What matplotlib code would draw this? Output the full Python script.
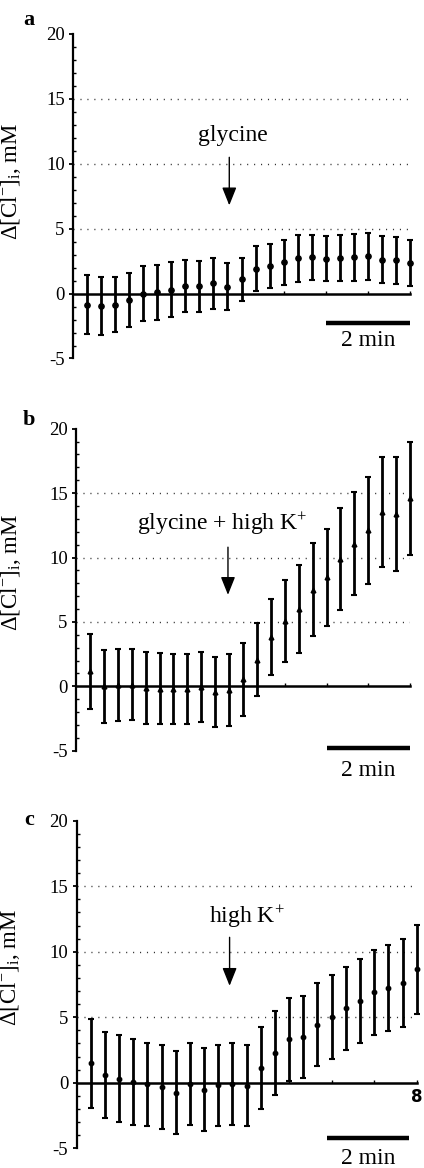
import matplotlib
matplotlib.use("Agg")
import matplotlib.pyplot as plt
import numpy as np

plt.rcParams['font.family'] = ['Liberation Serif', 'DejaVu Serif']
plt.rcParams['mathtext.fontset'] = 'custom'
plt.rcParams['mathtext.rm'] = 'Liberation Serif'
plt.rcParams['mathtext.it'] = 'Liberation Serif:italic'
plt.rcParams['axes.unicode_minus'] = False

# time points every 20 s (minutes)
times = np.arange(1, 25) / 3.0

# panel a: glycine
mean_a = [-0.85, -0.95, -0.85, -0.5, 0.0, 0.1, 0.3, 0.57, 0.57, 0.8, 0.52, 1.1,
          1.92, 2.14, 2.42, 2.72, 2.8, 2.7, 2.72, 2.8, 2.88, 2.62, 2.56, 2.35]
err_a = [2.26, 2.24, 2.14, 2.1, 2.13, 2.1, 2.1, 2.0, 1.95, 1.95, 1.8, 1.68,
         1.72, 1.7, 1.74, 1.8, 1.72, 1.74, 1.78, 1.8, 1.8, 1.82, 1.8, 1.76]

# panel b: glycine + high K+
mean_b = [1.17, 0.0, 0.08, 0.13, -0.13, -0.2, -0.2, -0.2, -0.05, -0.44, -0.28, 0.54,
          2.07, 3.8, 5.05, 6.0, 7.5, 8.45, 9.9, 11.05, 12.1, 13.55, 13.38, 14.6]
err_b = [2.9, 2.85, 2.78, 2.75, 2.76, 2.75, 2.74, 2.74, 2.7, 2.7, 2.8, 2.82,
         2.82, 2.95, 3.2, 3.4, 3.6, 3.75, 3.95, 4.0, 4.15, 4.25, 4.4, 4.4]

# panel c: high K+
mean_c = [1.48, 0.61, 0.31, 0.03, -0.13, -0.33, -0.76, -0.08, -0.53, -0.2, -0.08, -0.23,
          1.12, 2.29, 3.33, 3.51, 4.43, 5.0, 5.67, 6.23, 6.92, 7.23, 7.63, 8.65]
err_c = [3.4, 3.3, 3.3, 3.28, 3.2, 3.2, 3.15, 3.15, 3.15, 3.1, 3.15, 3.1,
         3.14, 3.2, 3.17, 3.15, 3.15, 3.2, 3.18, 3.23, 3.25, 3.3, 3.37, 3.38]

labels = ['a', 'b', 'c']
treatments = ['glycine', 'glycine + high K$^{+}$', 'high K$^{+}$']

W, H = 424, 1168
fig = plt.figure(figsize=(W / 100, H / 100), dpi=100)


def px_axes(left, right, top, bottom):
    return fig.add_axes([left / W, 1 - bottom / H, (right - left) / W, (bottom - top) / H])


panels = [
    dict(ax=px_axes(73, 410, 34, 358.5), mean=mean_a, err=err_a, marker='o', ms=3.8,
         text_xy=(3.8, 12.2), arrow_x=3.71, arrow=(10.5, 6.8),
         bar=(6.0, 8.0, -2.3), bar_text=-3.6, lab_xy=(-0.148, 0.545), panel_y=20),
    dict(ax=px_axes(76, 410, 428.7, 750.7), mean=mean_b, err=err_b, marker='^', ms=3.4,
         text_xy=(3.5, 12.6), arrow_x=3.64, arrow=(10.8, 7.1),
         bar=(6.0, 8.0, -4.8), bar_text=-6.5, lab_xy=(-0.159, 0.555), panel_y=420),
    dict(ax=px_axes(76.5, 416.7, 820.7, 1148.3), mean=mean_c, err=err_c, marker='o', ms=3.2,
         text_xy=(4.0, 12.7), arrow_x=3.6, arrow=(11.1, 7.4),
         bar=(5.88, 7.83, -4.2), bar_text=-5.8, lab_xy=(-0.16, 0.552), panel_y=820),
]

for i, p in enumerate(panels):
    ax = p['ax']
    ax.set_xlim(0, 8)
    ax.set_ylim(-5, 20)

    for lvl in [5, 10, 15]:
        ax.plot([0, 8], [lvl, lvl], color='#333333', lw=1.0, dashes=(0.8, 4.2), zorder=1)

    ax.errorbar(times, p['mean'], yerr=p['err'], fmt=p['marker'], ms=p['ms'],
                color='black', ecolor='black', elinewidth=2.0, capsize=2.2,
                capthick=1.5, clip_on=False, zorder=3)

    ax.spines['top'].set_visible(False)
    ax.spines['right'].set_visible(False)
    ax.spines['bottom'].set_position(('data', 0))
    ax.spines['bottom'].set_linewidth(1.8)
    ax.spines['left'].set_linewidth(1.6)

    ax.set_yticks([-5, 0, 5, 10, 15, 20])
    ax.set_yticks(np.arange(-5, 21, 1), minor=True)
    ax.tick_params(axis='y', which='major', direction='out', length=3, width=1.3,
                   labelsize=13.5, pad=3)
    ax.tick_params(axis='y', which='minor', direction='in', length=2, width=1)
    ax.set_xticks(np.arange(1, 9))
    ax.tick_params(axis='x', which='major', direction='in', length=2.5, width=1,
                   labelbottom=False)
    ax.tick_params(axis='x', which='minor', bottom=False)

    ax.set_ylabel(r'$\Delta[\mathrm{Cl}^{-}]_{\mathrm{i}}$, mM', fontsize=16.5)
    ax.yaxis.set_label_coords(*p['lab_xy'])

    tx, ty = p['text_xy']
    ax.text(tx, ty, treatments[i], fontsize=17, ha='center', va='center')
    ax.annotate('', xy=(p['arrow_x'], p['arrow'][1]), xytext=(p['arrow_x'], p['arrow'][0]),
                arrowprops=dict(arrowstyle='-|>,head_length=0.55,head_width=0.22',
                                mutation_scale=20, lw=1.0, color='black',
                                shrinkA=0, shrinkB=0))

    x0, x1, yb = p['bar']
    ax.plot([x0, x1], [yb, yb], color='black', lw=3.2, solid_capstyle='butt', clip_on=False)
    ax.text((x0 + x1) / 2, p['bar_text'], '2 min', fontsize=17, ha='center', va='center')

    fig.text(29 / W, 1 - p['panel_y'] / H, labels[i], fontsize=16, fontweight='bold',
             ha='center', va='center')

# stray "8" at end of the time axis in panel c
panels[2]['ax'].text(8, -1.1, '8', family='DejaVu Sans', fontweight='bold',
                     fontsize=12, ha='center', va='center')

fig.savefig('out.png', dpi=100)
